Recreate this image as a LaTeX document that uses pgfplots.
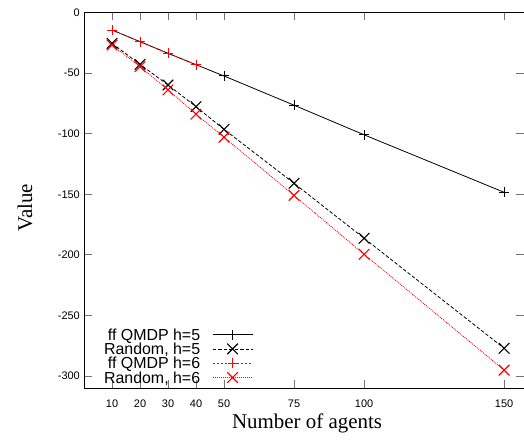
\documentclass[border=0pt]{standalone}
\usepackage{fontspec}
\setmainfont{Liberation Serif}
\setsansfont{Liberation Sans}
\usepackage{pgfplots}
\pgfplotsset{compat=1.18}

\begin{document}
\begin{tikzpicture}
\path[use as bounding box] (-84bp,-52.7bp) rectangle (440bp,388.3bp);
\begin{axis}[
    at={(0,0)}, anchor=south west,
    scale only axis, width=440bp, height=376bp,
    xmin=0, xmax=157.1, ymin=-310, ymax=0,
    xtick={10,20,30,40,50,75,100,150},
    ytick={0,-50,-100,-150,-200,-250,-300},
    tick align=inside, major tick length=8bp,
    axis line style={line width=0.9bp},
    tick style={black!55, line width=0.8bp},
    /pgf/number format/assume math mode=true,
    tick label style={font=\sffamily\fontsize{11}{11}\selectfont},
    xticklabel style={inner sep=0pt, anchor=north, yshift=-11.5bp},
    yticklabel style={inner sep=0pt, anchor=east, xshift=-4bp},
    xlabel={Number of agents},
    ylabel={Value},
    every axis x label/.style={at={(axis description cs:0.507,-0.1056)}, anchor=base,
        font=\fontsize{21}{21}\selectfont},
    every axis y label/.style={at={(axis description cs:-0.118,0.48)}, anchor=base,
        rotate=90, font=\fontsize{21}{21}\selectfont},
    legend plot pos=right,
    legend cell align=right,
    legend style={at={(axis description cs:0.0455,0.158)}, anchor=north west,
        draw=none, fill=none, inner sep=0pt, outer sep=0pt,
        font=\sffamily\fontsize{16}{16}\selectfont,
        nodes={inner sep=0pt, text height=11.5bp, text depth=0bp},
        row sep=2.8bp, column sep=12bp},
    legend image code/.code={
        \draw[mark repeat=2, mark phase=2] plot coordinates {(0bp,0bp) (20bp,0bp) (40bp,0bp)};
    },
]
\addplot[black, line width=0.8bp, mark=+, mark size=5bp, mark options={solid, line width=1bp}]
coordinates {(10,-14.6) (20,-24.2) (30,-33.8) (40,-43.2) (50,-52.5) (75,-76.6) (100,-101) (150,-148.4)};
\addlegendentry{ff QMDP h=5}
\addplot[black, line width=0.8bp, dash pattern=on 3.5bp off 2bp, mark=x, mark size=7.5bp, mark options={solid, line width=1.1bp}]
coordinates {(10,-25.6) (20,-42.9) (30,-59.9) (40,-77.8) (50,-96.5) (75,-141) (100,-186.3) (150,-277)};
\addlegendentry{Random, h=5}
\addplot[red, line width=0.8bp, dash pattern=on 2bp off 2bp, mark=+, mark size=5bp, mark options={solid, line width=1bp}]
coordinates {(10,-14.6) (20,-24.2) (30,-33.8) (40,-43.2)};
\addlegendentry{ff QMDP h=6}
\addplot[red, line width=0.8bp, dash pattern=on 1bp off 1bp, mark=x, mark size=7.5bp, mark options={solid, line width=1.1bp}]
coordinates {(10,-27) (20,-44.8) (30,-64) (40,-84) (50,-103) (75,-151) (100,-199.5) (150,-295)};
\addlegendentry{Random, h=6}
\end{axis}
\end{tikzpicture}
\end{document}
